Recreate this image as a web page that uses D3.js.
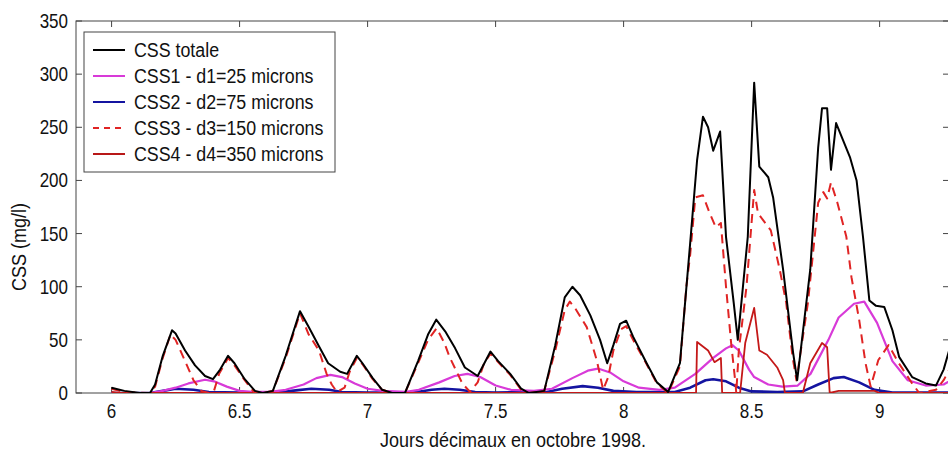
<!doctype html>
<meta charset="utf-8">
<title>CSS octobre 1998</title>
<script src="https://cdn.jsdelivr.net/npm/d3@7/dist/d3.min.js"></script>
<style>
    body { margin: 0; background: #fff; }
    text { font-family: "Liberation Sans", Arial, sans-serif; fill: #111; }
</style>
<body>
<div id="chart"></div>
<script>

    // values: [jour decimal, CSS mg/l]
    var cssTotale = [[6.0,5],[6.05,2],[6.11,0],[6.15,0],[6.17,8],[6.2,35],[6.236,59],[6.25,56],[6.287,40],
        [6.326,26],[6.365,16],[6.396,13],[6.424,22],[6.455,35],[6.48,28],[6.52,13],[6.56,2],[6.59,0],[6.63,2],
        [6.68,35],[6.736,77],[6.77,62],[6.81,44],[6.846,28],[6.893,20],[6.92,18],[6.958,35],[6.98,28],[7.02,14],
        [7.057,3],[7.096,0],[7.146,0],[7.197,30],[7.236,55],[7.268,69],[7.303,58],[7.342,42],[7.38,24],[7.43,16],
        [7.48,39],[7.51,30],[7.557,18],[7.6,4],[7.63,0],[7.69,2],[7.733,45],[7.77,90],[7.8,100],[7.83,92],
        [7.87,73],[7.908,50],[7.936,28],[7.96,45],[7.986,65],[8.01,68],[8.037,53],[8.09,28],[8.13,10],[8.174,1],
        [8.22,28],[8.26,141],[8.287,219],[8.31,260],[8.33,250],[8.35,228],[8.377,246],[8.4,147],[8.43,85],
        [8.446,50],[8.485,147],[8.51,292],[8.53,213],[8.565,203],[8.584,184],[8.623,116],[8.662,38],[8.678,12],
        [8.729,116],[8.76,231],[8.775,268],[8.795,268],[8.81,210],[8.83,254],[8.884,222],[8.91,200],[8.935,147],
        [8.96,87],[8.986,82],[9.018,81],[9.05,59],[9.076,34],[9.127,15],[9.18,9],[9.22,7],[9.25,22],[9.295,60]];

    var css1 = [[6.0,0],[6.15,0],[6.2,2],[6.25,5],[6.3,9],[6.365,12.5],[6.4,11],[6.45,6],[6.5,2],[6.55,1],
        [6.62,1],[6.68,3],[6.75,8],[6.8,14],[6.855,17],[6.9,15],[6.95,9],[7.0,4],[7.06,2],[7.15,1],[7.2,3],
        [7.28,10],[7.34,16],[7.39,18],[7.44,15],[7.5,7],[7.56,3],[7.65,2],[7.72,4],[7.8,14],[7.86,21],[7.9,23],
        [7.95,19],[8.0,11],[8.06,5],[8.14,3],[8.2,5],[8.28,18],[8.35,33],[8.4,42],[8.425,45],[8.45,40],[8.49,22],
        [8.51,15],[8.565,8],[8.62,6],[8.68,7],[8.73,18],[8.8,50],[8.84,71],[8.9,84],[8.94,86],[8.99,66],
        [9.05,30],[9.11,12],[9.18,7],[9.25,8],[9.3,15]];

    var css2 = [[6.0,0],[6.15,0],[6.2,2],[6.25,4],[6.32,3],[6.38,1],[6.5,0.5],[6.65,0.5],[6.72,2.5],[6.78,4],
        [6.85,3],[6.9,1],[7.0,0.5],[7.18,0.5],[7.25,3],[7.3,4],[7.36,3],[7.42,1],[7.5,0.5],[7.7,1],[7.76,4],
        [7.84,6.5],[7.9,5],[7.96,2],[8.05,1],[8.2,1],[8.26,5],[8.32,12],[8.35,13],[8.4,11],[8.45,5],[8.5,1.5],
        [8.6,1],[8.7,1.5],[8.76,8],[8.82,14],[8.86,15],[8.92,10],[8.98,3],[9.05,0.5],[9.3,0.5]];

    var css3 = [[6.0,4],[6.05,1],[6.15,0],[6.17,6],[6.2,33],[6.23,55],[6.25,50],[6.287,30],[6.32,12],[6.35,2],
        [6.38,0],[6.4,2],[6.42,18],[6.455,33],[6.48,26],[6.52,12],[6.555,1],[6.59,0],[6.63,2],[6.68,33],
        [6.736,75],[6.77,55],[6.81,40],[6.84,18],[6.86,8],[6.88,1],[6.91,5],[6.93,20],[6.958,33],[6.98,27],
        [7.02,13],[7.057,3],[7.096,0],[7.146,0],[7.197,28],[7.236,50],[7.27,61],[7.3,47],[7.32,34],[7.37,9],
        [7.4,1],[7.43,10],[7.455,28],[7.48,37],[7.51,29],[7.557,17],[7.6,3],[7.63,0],[7.69,2],[7.733,40],
        [7.77,78],[7.79,86],[7.81,80],[7.856,62],[7.895,31],[7.92,3],[7.94,15],[7.96,40],[7.99,60],[8.01,63],
        [8.037,50],[8.09,27],[8.13,9],[8.174,0],[8.22,25],[8.245,100],[8.26,130],[8.28,184],[8.31,186],
        [8.335,170],[8.36,156],[8.38,160],[8.4,100],[8.42,47],[8.437,9],[8.44,0],[8.45,40],[8.48,100],[8.51,191],
        [8.525,169],[8.55,161],[8.575,153],[8.61,116],[8.635,85],[8.66,34],[8.675,12],[8.72,85],[8.76,179],
        [8.78,189],[8.795,183],[8.81,198],[8.835,179],[8.87,147],[8.89,109],[8.92,69],[8.945,28],[8.965,6],
        [8.995,31],[9.035,45],[9.075,28],[9.127,9],[9.155,0],[9.22,3],[9.25,12],[9.29,30]];

    var css4 = [[6.0,1],[6.03,0],[8.283,0],[8.287,48],[8.33,40],[8.355,29],[8.38,33],[8.385,0],[8.455,0],
        [8.475,47],[8.51,80],[8.53,40],[8.56,36],[8.6,24],[8.623,12],[8.63,0],[8.7,0],[8.729,28],[8.775,47],
        [8.795,43],[8.805,0],[8.84,2],[8.98,2],[9.0,0],[9.3,0]];

    var xTicks = [6, 6.5, 7, 7.5, 8, 8.5, 9]
            , yTicks = [0, 50, 100, 150, 200, 250, 300, 350]
            , xDomain = [5.861, 9.271]
            , yDomain = [0, 350];

    var legendLabels = ['CSS totale', 'CSS1 - d1=25 microns', 'CSS2 - d2=75 microns',
        'CSS3 - d3=150 microns', 'CSS4 - d4=350 microns'];

    var W = 948, H = 453
            , pLeft = 76, pTop = 21, pRight = 949, pBottom = 393
            , tickLen = 6;

    var x = d3.scaleLinear().domain(xDomain).range([pLeft, pRight]);
    var y = d3.scaleLinear().domain(yDomain).range([pBottom, pTop]);

    var svg = d3.select('#chart').append('svg')
            .attr('width', W)
            .attr('height', H);

    // text squeezed horizontally, the original font is a narrow one
    function label(parent, tx, ty, str, size, sx, anchor) {
        return parent.append('text')
                .attr('transform', 'translate(' + tx + ',' + ty + ') scale(' + sx + ',1)')
                .attr('text-anchor', anchor)
                .style('font-size', size + 'px')
                .text(str);
    }

    svg.append('clipPath').attr('id', 'plot')
            .append('rect')
            .attr('x', pLeft).attr('y', pTop - 2)
            .attr('width', pRight - pLeft).attr('height', pBottom - pTop + 2);

    // frame
    svg.append('rect')
            .attr('x', pLeft).attr('y', pTop)
            .attr('width', pRight - pLeft).attr('height', pBottom - pTop)
            .style('fill', 'none')
            .style('stroke', '#444')
            .style('stroke-width', 1);

    // matlab style inward ticks
    var ax = svg.append('g').style('stroke', '#444').style('stroke-width', 1);
    xTicks.forEach(function(t) {
        ax.append('line').attr('x1', x(t)).attr('x2', x(t)).attr('y1', pBottom).attr('y2', pBottom - tickLen);
        ax.append('line').attr('x1', x(t)).attr('x2', x(t)).attr('y1', pTop).attr('y2', pTop + tickLen);
    });
    yTicks.forEach(function(t) {
        ax.append('line').attr('x1', pLeft).attr('x2', pLeft + tickLen).attr('y1', y(t)).attr('y2', y(t));
        ax.append('line').attr('x1', pRight).attr('x2', pRight - tickLen).attr('y1', y(t)).attr('y2', y(t));
    });

    var tl = svg.append('g');
    xTicks.forEach(function(t) { label(tl, x(t), 418, t, 20, 0.85, 'middle') });
    yTicks.forEach(function(t) { label(tl, pLeft - 8, y(t) + 7, t, 20, 0.85, 'end') });

    label(svg, 513, 447, 'Jours décimaux en octobre 1998.', 20, 0.9, 'middle');

    svg.append('text')
            .attr('transform', 'translate(26,247) rotate(-90) scale(0.9,1)')
            .attr('text-anchor', 'middle')
            .style('font-size', '20px')
            .text('CSS (mg/l)');

    // series
    var series = [
        { data: css2, color: '#1414a0', width: 2.6, dash: null },
        { data: css1, color: '#d83ad8', width: 2.2, dash: null },
        { data: css4, color: '#c41818', width: 1.8, dash: null },
        { data: css3, color: '#e02424', width: 2, dash: '9,6' },
        { data: cssTotale, color: '#000', width: 2, dash: null }
    ];

    var line = d3.line()
            .x(function(d) { return x(d[0]) })
            .y(function(d) { return y(d[1]) });

    var g = svg.append('g').attr('clip-path', 'url(#plot)');
    series.forEach(function(s) {
        g.append('path')
                .attr('d', line(s.data))
                .style('fill', 'none')
                .style('stroke', s.color)
                .style('stroke-width', s.width)
                .style('stroke-linejoin', 'round')
                .style('stroke-dasharray', s.dash);
    });

    // legend
    var legendStyle = [
        { color: '#000', dash: null },
        { color: '#d83ad8', dash: null },
        { color: '#1414a0', dash: null },
        { color: '#e02424', dash: '6,5' },
        { color: '#b81818', dash: null }
    ];

    var lg = svg.append('g');
    lg.append('rect')
            .attr('x', 84).attr('y', 32)
            .attr('width', 251).attr('height', 140)
            .style('fill', '#fff')
            .style('stroke', '#444')
            .style('stroke-width', 1);

    legendLabels.forEach(function(str, i) {
        var ly = 50 + i * 26;
        lg.append('line')
                .attr('x1', 93).attr('x2', 125)
                .attr('y1', ly).attr('y2', ly)
                .style('stroke', legendStyle[i].color)
                .style('stroke-width', 2)
                .style('stroke-dasharray', legendStyle[i].dash);
        label(lg, 134, ly + 7, str, 20, 0.89, 'start');
    });

</script>
</body>
